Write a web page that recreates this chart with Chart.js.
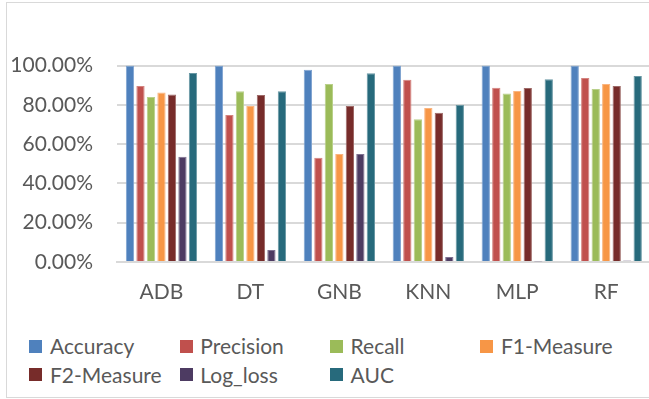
<!DOCTYPE html>
<html lang="en">
<head>
    <meta charset="UTF-8">
    <title>Model Metrics</title>
    <script src="https://cdn.jsdelivr.net/npm/chart.js"></script>
    <style>
        body {
            margin: 0;
            padding: 0;
            background-color: white;
            overflow: hidden;
            font-family: Lato, sans-serif;
        }
        .frame {
            position: absolute;
            left: 6px;
            top: 2px;
            width: 700px;
            height: 394px;
            border: 1px solid #d9d9d9;
        }
        .chart-box {
            position: absolute;
            left: 0;
            top: 0;
            width: 656px;
            height: 320px;
        }
        .legend-item {
            position: absolute;
            height: 24px;
        }
        .legend-item .swatch {
            position: absolute;
            left: 0;
            top: 5.5px;
            width: 13px;
            height: 13px;
        }
        .legend-item .label {
            position: absolute;
            left: 20.7px;
            top: 0;
            line-height: 24px;
            font-size: 21px;
            color: #595959;
            white-space: nowrap;
        }
    </style>
</head>
<body>
    <div class="frame"></div>
    <div class="chart-box"><canvas id="metricsChart"></canvas></div>
    <div id="legend"></div>
    <script>
        const models = ['ADB', 'DT', 'GNB', 'KNN', 'MLP', 'RF'];
        const yTicks = [0, 20, 40, 60, 80, 100];

        const accuracy = [100, 100, 97.9, 100, 100, 100];
        const precision = [89.6, 74.8, 53.1, 92.8, 88.7, 93.6];
        const recall = [84.0, 86.9, 90.6, 72.6, 85.7, 88.0];
        const f1Measure = [86.2, 79.4, 55.0, 78.4, 87.0, 90.6];
        const f2Measure = [85.2, 85.0, 79.4, 76.0, 88.5, 89.6];
        const logLoss = [53.6, 6.1, 55.0, 2.5, 0.3, 0.8];
        const auc = [96.2, 86.9, 96.0, 80.0, 93.0, 94.7];

        const seriesNames = ['Accuracy', 'Precision', 'Recall', 'F1-Measure', 'F2-Measure', 'Log_loss', 'AUC'];
        const seriesValues = [accuracy, precision, recall, f1Measure, f2Measure, logLoss, auc];
        const seriesColors = ['#4F81BD', '#C0504D', '#9BBB59', '#F79646', '#772C2A', '#4D3B62', '#276A7C'];
        const seriesEdges = ['#7fa3d0', '#d4837f', '#b9d08a', '#fab47f', '#9e6a68', '#7f7291', '#6897a4'];

        const datasets = seriesNames.map((name, i) => ({
            label: name,
            data: seriesValues[i],
            backgroundColor: seriesColors[i],
            borderColor: seriesEdges[i],
            borderWidth: 1,
            categoryPercentage: 0.826,
            barPercentage: 0.79
        }));

        const ctx = document.getElementById('metricsChart').getContext('2d');
        new Chart(ctx, {
            type: 'bar',
            data: {
                labels: models,
                datasets: datasets
            },
            options: {
                responsive: true,
                maintainAspectRatio: false,
                animation: false,
                layout: {
                    padding: { left: 0, right: 5.3, top: 65.5, bottom: 0 }
                },
                plugins: {
                    legend: { display: false },
                    tooltip: { enabled: false }
                },
                scales: {
                    x: {
                        grid: { display: false, drawTicks: false },
                        border: { display: true, color: '#d9d9d9', width: 2 },
                        ticks: {
                            color: '#595959',
                            font: { family: 'Lato', size: 21 },
                            padding: 18
                        },
                        afterFit: (s) => { s.height = 58; }
                    },
                    y: {
                        min: 0,
                        max: 100,
                        afterBuildTicks: (s) => { s.ticks = yTicks.map(v => ({ value: v })); },
                        grid: { color: '#d9d9d9', lineWidth: 2, drawTicks: false },
                        border: { display: false },
                        ticks: {
                            color: '#595959',
                            font: { family: 'Lato', size: 21 },
                            padding: 24,
                            callback: (v) => v.toFixed(2) + '%'
                        },
                        afterFit: (s) => { s.width = 117; }
                    }
                }
            }
        });

        // legend laid out in fixed columns, like the original
        const legend = document.getElementById('legend');
        const colLeft = 29.3, colStep = 150.3, perRow = 4;
        const rowCenters = [346, 374.5];
        seriesNames.forEach((name, i) => {
            const item = document.createElement('div');
            item.className = 'legend-item';
            item.style.left = (colLeft + colStep * (i % perRow)) + 'px';
            item.style.top = (rowCenters[Math.floor(i / perRow)] - 12) + 'px';
            item.innerHTML = '<span class="swatch" style="background:' + seriesColors[i] + '"></span>' +
                '<span class="label">' + name + '</span>';
            legend.appendChild(item);
        });
    </script>
</body>
</html>
